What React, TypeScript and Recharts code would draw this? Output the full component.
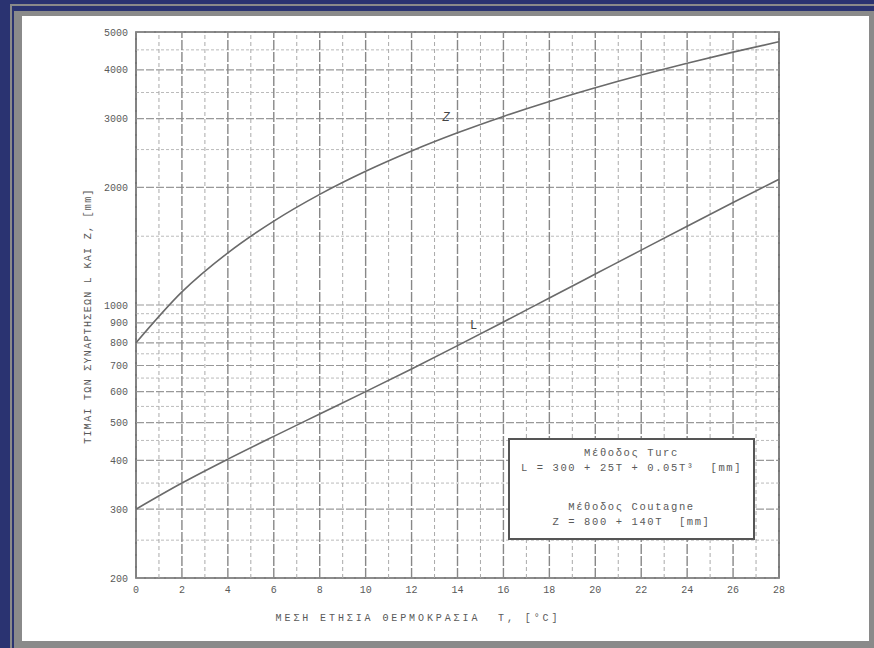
import {
  LineChart,
  Line,
  XAxis,
  YAxis,
  ReferenceLine,
  ReferenceArea,
  ReferenceDot,
} from "recharts";

// mean annual temperature T [°C]
const temps = [0, 2, 4, 6, 8, 10, 12, 14, 16, 18, 20, 22, 24, 26, 28];
// Coutagne, Z [mm]
const zValues = [800, 1080, 1360, 1640, 1920, 2200, 2480, 2760, 3040, 3320, 3600, 3880, 4160, 4440, 4720];
// Turc, L [mm]
const lValues = [300, 350, 403, 461, 526, 600, 686, 787, 905, 1042, 1200, 1382, 1591, 1829, 2098];

const xTicks = [0, 2, 4, 6, 8, 10, 12, 14, 16, 18, 20, 22, 24, 26, 28];
const yTicks = [200, 300, 400, 500, 600, 700, 800, 900, 1000, 2000, 3000, 4000, 5000];
const xGrid = Array.from({ length: 29 }, (_, i) => i);
const yGridMinor = [250, 350, 450, 550, 650, 750, 850, 950, 1500, 2500, 3500, 4500];

const data = temps.map((t, i) => ({ t, L: lValues[i], Z: zValues[i] }));

const ink = "#5a5a5a";
const mono = "'Liberation Mono', 'DejaVu Sans Mono', monospace";

export default function App() {
  return (
    <div style={{ position: "absolute", left: 0, top: 0, width: 874, height: 648, background: "#2a3371", overflow: "hidden" }}>
      <div style={{ position: "absolute", left: 10, top: 4, right: 0, bottom: 0, background: "#8a8a8a" }} />
      <div style={{ position: "absolute", left: 12, top: 6, right: 0, bottom: 0, background: "#2a3371" }} />
      <div style={{ position: "absolute", left: 14, top: 11, right: 0, bottom: 0, background: "#8a8a8a" }} />
      <div style={{ position: "absolute", left: 22, top: 16, width: 847, height: 625, background: "#fff" }} />

      <div style={{ position: "absolute", left: 0, top: 0 }}>
        <LineChart width={874} height={648} data={data} margin={{ top: 32, right: 95, bottom: 40, left: 76 }}>
          <XAxis
            dataKey="t"
            type="number"
            domain={[0, 28]}
            ticks={xTicks}
            axisLine={false}
            tickLine={false}
            height={30}
            tick={{ fill: ink, fontSize: 10, fontFamily: mono }}
            interval={0}
          />
          <YAxis
            type="number"
            scale="log"
            domain={[200, 5000]}
            ticks={yTicks}
            allowDataOverflow
            axisLine={false}
            tickLine={false}
            width={60}
            tick={{ fill: ink, fontSize: 10, fontFamily: mono }}
            interval={0}
          />
          {yGridMinor.map((v) => (
            <ReferenceLine key={"ym" + v} y={v} stroke="#bbb" strokeWidth={1} strokeDasharray="3 2" />
          ))}
          {yTicks.map((v) => (
            <ReferenceLine key={"y" + v} y={v} stroke="#999" strokeWidth={1.2} strokeDasharray="8 2" />
          ))}
          {xGrid.map((v) => (
            <ReferenceLine
              key={"x" + v}
              x={v}
              stroke={v % 2 === 0 ? "#888" : "#aaa"}
              strokeWidth={v % 2 === 0 ? 1.4 : 1}
              strokeDasharray={v % 2 === 0 ? "10 2" : "4 3"}
            />
          ))}
          <ReferenceArea x1={0} x2={28} y1={200} y2={5000} fill="none" stroke="#555" strokeWidth={1.6} />
          <Line dataKey="Z" type="monotone" stroke="#6a6a6a" strokeWidth={1.6} dot={false} isAnimationActive={false} />
          <Line dataKey="L" type="monotone" stroke="#6a6a6a" strokeWidth={1.6} dot={false} isAnimationActive={false} />
          <ReferenceDot
            x={13.5}
            y={3030}
            r={0}
            label={{ value: "Z", fill: "#444", fontSize: 12, fontFamily: mono, fontStyle: "italic" }}
          />
          <ReferenceDot
            x={14.7}
            y={890}
            r={0}
            label={{ value: "L", fill: "#444", fontSize: 12, fontFamily: mono }}
          />
        </LineChart>
      </div>

      <div
        style={{
          position: "absolute",
          left: 88,
          top: 316,
          transform: "translate(-50%, -50%) rotate(-90deg)",
          whiteSpace: "nowrap",
          fontFamily: mono,
          fontSize: 10,
          letterSpacing: 1.3,
          color: ink,
        }}
      >
        ΤΙΜΑΙ ΤΩΝ ΣΥΝΑΡΤΗΣΕΩΝ L ΚΑΙ Z, [mm]
      </div>
      <div
        style={{
          position: "absolute",
          left: 418,
          top: 618,
          transform: "translate(-50%, -50%)",
          whiteSpace: "nowrap",
          fontFamily: mono,
          fontSize: 10,
          letterSpacing: 2.9,
          color: ink,
        }}
      >
        ΜΕΣΗ ΕΤΗΣΙΑ ΘΕΡΜΟΚΡΑΣΙΑ&nbsp; T, [°C]
      </div>

      <div
        style={{
          position: "absolute",
          left: 508,
          top: 438,
          width: 243,
          height: 98,
          border: "2px solid #555",
          background: "#fff",
          fontFamily: mono,
          fontSize: 10.5,
          letterSpacing: 1.6,
          color: ink,
          textAlign: "center",
          lineHeight: "15px",
        }}
      >
        <div style={{ marginTop: 6 }}>Μέθοδος Turc</div>
        <div>L = 300 + 25T + 0.05T³&nbsp; [mm]</div>
        <div style={{ marginTop: 24 }}>Μέθοδος Coutagne</div>
        <div>Z = 800 + 140T&nbsp; [mm]</div>
      </div>
    </div>
  );
}
